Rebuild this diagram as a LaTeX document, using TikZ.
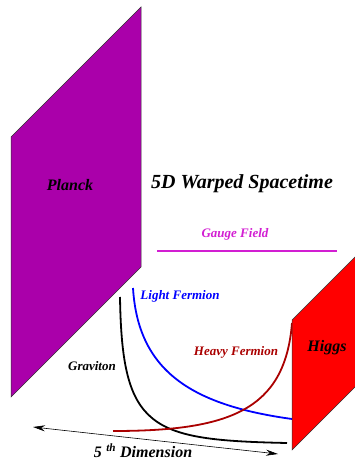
\documentclass[tikz,border=0pt]{standalone}
\usepackage{fontspec}
\setmainfont{Liberation Serif}
\usetikzlibrary{arrows.meta}
\definecolor{planckpurple}{RGB}{170,0,170}
\definecolor{gaugemag}{RGB}{210,30,210}
\definecolor{heavyred}{RGB}{170,0,0}
\tikzset{
    brane/.style={draw=black!80, line width=0.5pt},
    branetext/.style={font=\fontsize{16}{18}\selectfont\bfseries\itshape},
    fieldtext/.style={font=\fontsize{13}{15}\selectfont\bfseries\itshape},
    wave/.style={line width=1.8pt},
    dimarrow/.style={{Stealth[length=12pt,width=6pt]}-{Stealth[length=12pt,width=6pt]}, line width=0.6pt},
}

\begin{document}
\begin{tikzpicture}[x=1pt, y=-1pt]
\useasboundingbox (0,0) rectangle (355,462);
\clip (0,0) rectangle (355,462);

% Planck brane
\fill[planckpurple] (11,137) -- (141,7) -- (141,267) -- (11,397) -- cycle;
\draw[brane] (11,137) -- (141,7) -- (141,267) -- (11,397) -- cycle;
\node[branetext] (planck) at (70,185) {Planck};

% Title
\node[font=\fontsize{20}{24}\selectfont\bfseries\itshape] (title) at (242,184) {5D Warped Spacetime};

% Gauge field
\coordinate (gaugeleft) at (157,251);
\coordinate (gaugeright) at (337,251);
\draw[line width=2pt, gaugemag] (gaugeleft) -- (gaugeright);
\node[fieldtext, text=gaugemag] (gauge) at (235,234) {Gauge Field};

% Profiles along the extra dimension
\coordinate (gravtop) at (120,297);
\coordinate (gravend) at (287,443);
\coordinate (lighttop) at (133,288);
\coordinate (lightend) at (292,419);
\coordinate (heavystart) at (113,431);
\coordinate (heavyend) at (292,323);

\draw[wave, black] (gravtop) .. controls (122,430) and (150,440) .. (gravend);
\draw[wave, blue] (lighttop) .. controls (138,370) and (190,405) .. (lightend);
\draw[wave, heavyred] (heavystart) .. controls (230,431) and (285,410) .. (heavyend);

\node[fieldtext, text=blue] (light) at (180,296) {Light Fermion};
\node[fieldtext, text=heavyred] (heavy) at (236,352) {Heavy Fermion};
\node[fieldtext] (graviton) at (92,366) {Graviton};

% Higgs brane
\fill[red] (292,320) -- (422,190) -- (422,320) -- (292,450) -- cycle;
\draw[brane] (292,320) -- (422,190) -- (422,320) -- (292,450) -- cycle;
\node[branetext] (higgs) at (327,348) {Higgs};

% 5th dimension
\coordinate (dimleft) at (33,427);
\coordinate (dimright) at (278,454);
\draw[dimarrow] (dimleft) -- (dimright);
\node[branetext] (dimension) at (143,451) {5\;\textsuperscript{th} Dimension};

\end{tikzpicture}
\end{document}
